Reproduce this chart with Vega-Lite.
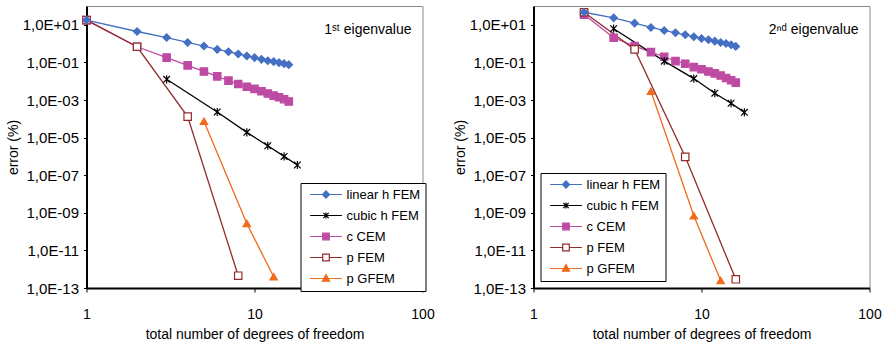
{
  "$schema": "https://vega.github.io/schema/vega-lite/v6.json",
  "padding": {"left": 5.5, "top": 5, "right": 5, "bottom": 5},
  "datasets": {
    "d1": [
      {"s": "c CEM", "x": 1, "y": 17.8}, {"s": "c CEM", "x": 2, "y": 0.68}, {"s": "c CEM", "x": 3, "y": 0.18}, {"s": "c CEM", "x": 4, "y": 0.069}, {"s": "c CEM", "x": 5, "y": 0.033}, {"s": "c CEM", "x": 6, "y": 0.018}, {"s": "c CEM", "x": 7, "y": 0.0107}, {"s": "c CEM", "x": 8, "y": 0.0071}, {"s": "c CEM", "x": 9, "y": 0.0051}, {"s": "c CEM", "x": 10, "y": 0.0039}, {"s": "c CEM", "x": 11, "y": 0.0029}, {"s": "c CEM", "x": 12, "y": 0.0022}, {"s": "c CEM", "x": 13, "y": 0.0017}, {"s": "c CEM", "x": 14, "y": 0.0014}, {"s": "c CEM", "x": 15, "y": 0.0011}, {"s": "c CEM", "x": 16, "y": 0.00083},
      {"s": "cubic h FEM", "x": 3, "y": 0.0126}, {"s": "cubic h FEM", "x": 6, "y": 0.00023}, {"s": "cubic h FEM", "x": 9, "y": 0.000019}, {"s": "cubic h FEM", "x": 12, "y": 0.0000037}, {"s": "cubic h FEM", "x": 15, "y": 0.000001}, {"s": "cubic h FEM", "x": 18, "y": 0.00000035},
      {"s": "p GFEM", "x": 5, "y": 0.000075}, {"s": "p GFEM", "x": 9, "y": 2.7e-10}, {"s": "p GFEM", "x": 13, "y": 4e-13},
      {"s": "p FEM", "x": 1, "y": 17.8}, {"s": "p FEM", "x": 2, "y": 0.68}, {"s": "p FEM", "x": 4, "y": 0.00013}, {"s": "p FEM", "x": 8, "y": 4.5e-13},
      {"s": "linear h FEM", "x": 1, "y": 17.8}, {"s": "linear h FEM", "x": 2, "y": 4.4}, {"s": "linear h FEM", "x": 3, "y": 2.1}, {"s": "linear h FEM", "x": 4, "y": 1.15}, {"s": "linear h FEM", "x": 5, "y": 0.74}, {"s": "linear h FEM", "x": 6, "y": 0.49}, {"s": "linear h FEM", "x": 7, "y": 0.37}, {"s": "linear h FEM", "x": 8, "y": 0.28}, {"s": "linear h FEM", "x": 9, "y": 0.22}, {"s": "linear h FEM", "x": 10, "y": 0.18}, {"s": "linear h FEM", "x": 11, "y": 0.145}, {"s": "linear h FEM", "x": 12, "y": 0.123}, {"s": "linear h FEM", "x": 13, "y": 0.11}, {"s": "linear h FEM", "x": 14, "y": 0.097}, {"s": "linear h FEM", "x": 15, "y": 0.086}, {"s": "linear h FEM", "x": 16, "y": 0.076}
    ],
    "d2": [
      {"s": "c CEM", "x": 2, "y": 35}, {"s": "c CEM", "x": 3, "y": 2.04}, {"s": "c CEM", "x": 4, "y": 0.73}, {"s": "c CEM", "x": 5, "y": 0.35}, {"s": "c CEM", "x": 6, "y": 0.2}, {"s": "c CEM", "x": 7, "y": 0.117}, {"s": "c CEM", "x": 8, "y": 0.085}, {"s": "c CEM", "x": 9, "y": 0.056}, {"s": "c CEM", "x": 10, "y": 0.043}, {"s": "c CEM", "x": 11, "y": 0.033}, {"s": "c CEM", "x": 12, "y": 0.026}, {"s": "c CEM", "x": 13, "y": 0.02}, {"s": "c CEM", "x": 14, "y": 0.0148}, {"s": "c CEM", "x": 15, "y": 0.0112}, {"s": "c CEM", "x": 16, "y": 0.0084},
      {"s": "cubic h FEM", "x": 3, "y": 6.2}, {"s": "cubic h FEM", "x": 6, "y": 0.117}, {"s": "cubic h FEM", "x": 9, "y": 0.0138}, {"s": "cubic h FEM", "x": 12, "y": 0.0023}, {"s": "cubic h FEM", "x": 15, "y": 0.00067}, {"s": "cubic h FEM", "x": 18, "y": 0.00022},
      {"s": "p GFEM", "x": 5, "y": 0.0029}, {"s": "p GFEM", "x": 9, "y": 7e-10}, {"s": "p GFEM", "x": 13, "y": 2.5e-13},
      {"s": "p FEM", "x": 2, "y": 46.5}, {"s": "p FEM", "x": 4, "y": 0.49}, {"s": "p FEM", "x": 8, "y": 9.5e-7}, {"s": "p FEM", "x": 16, "y": 2.9e-13},
      {"s": "linear h FEM", "x": 2, "y": 46.5}, {"s": "linear h FEM", "x": 3, "y": 23.5}, {"s": "linear h FEM", "x": 4, "y": 12.2}, {"s": "linear h FEM", "x": 5, "y": 7.2}, {"s": "linear h FEM", "x": 6, "y": 5.0}, {"s": "linear h FEM", "x": 7, "y": 3.77}, {"s": "linear h FEM", "x": 8, "y": 2.95}, {"s": "linear h FEM", "x": 9, "y": 2.31}, {"s": "linear h FEM", "x": 10, "y": 1.88}, {"s": "linear h FEM", "x": 11, "y": 1.6}, {"s": "linear h FEM", "x": 12, "y": 1.35}, {"s": "linear h FEM", "x": 13, "y": 1.15}, {"s": "linear h FEM", "x": 14, "y": 1.02}, {"s": "linear h FEM", "x": 15, "y": 0.87}, {"s": "linear h FEM", "x": 16, "y": 0.71}
    ],
    "a1": [{"x": 86, "y": 5.4, "t": "1ˢᵗ eigenvalue"}],
    "a2": [{"x": 86, "y": 5.4, "t": "2ⁿᵈ eigenvalue"}]
  },
  "hconcat": [
    {
      "width": 336, "height": 282,
      "data": {"name": "d1"},
      "encoding": {
        "x": {"field": "x", "type": "quantitative", "scale": {"type": "log", "domain": [1, 100]},
              "axis": {"values": [1, 10, 100], "format": "d", "tickSize": 4, "labelPadding": 15, "title": "total number of degrees of freedom", "titlePadding": 6, "labelFlush": false}},
        "y": {"field": "y", "type": "quantitative", "scale": {"type": "log", "domain": [1e-13, 100]},
              "axis": {"values": [10, 0.1, 0.001, 0.00001, 1e-7, 1e-9, 1e-11, 1e-13], "labelExpr": "'1,0E' + (datum.value >= 1 ? '+' : '-') + (abs(round(log(datum.value)/LN10)) < 10 ? '0' : '') + abs(round(log(datum.value)/LN10))", "tickSize": 3, "labelPadding": 5, "labelFontSize": 15, "title": "error (%)", "titlePadding": 2, "labelFlush": false}}
      },
      "layer": [
        {"mark": {"type": "line", "strokeWidth": 1.3},
         "encoding": {"color": {"field": "s", "type": "nominal", "scale": {"domain": ["linear h FEM", "cubic h FEM", "c CEM", "p FEM", "p GFEM"], "range": ["#4470C4", "#000000", "#BE4BA3", "#922B2B", "#F26A1B"]},
             "legend": {"orient": "bottom-right", "offset": -3, "title": null, "symbolSize": 36, "symbolOffset": 14, "labelOffset": 14, "rowPadding": 7, "padding": 5, "strokeColor": "black", "fillColor": "white", "labelFontSize": 13, "labelColor": "black",
               "encode": {"symbols": {"update": {
                 "shape": {"signal": "datum.value == 'linear h FEM' ? 'M-5.3,0H5.3M0,-1.2L1.2,0L0,1.2L-1.2,0Z' : datum.value == 'cubic h FEM' ? 'M-5.3,0H5.3M-0.9,-0.9L0.9,0.9M-0.9,0.9L0.9,-0.9M0,-1L0,1' : datum.value == 'c CEM' ? 'M-5.3,0H5.3M-1.1,-1.1H1.1V1.1H-1.1Z' : datum.value == 'p FEM' ? 'M-5.3,0H-1.1M1.1,0H5.3M-1.1,-1.1H1.1V1.1H-1.1Z' : 'M-5.3,0H5.3M0,-1.3L1.2,0.9H-1.2Z'"},
                 "fill": {"signal": "datum.value == 'linear h FEM' ? '#4470C4' : datum.value == 'c CEM' ? '#BE4BA3' : datum.value == 'p GFEM' ? '#F26A1B' : datum.value == 'p FEM' ? 'white' : 'transparent'"},
                 "strokeWidth": {"value": 1.2}, "size": {"value": 36}, "opacity": {"value": 1}}}}}}}},
        {"mark": {"type": "point", "filled": false, "size": 55, "strokeWidth": 1.2, "opacity": 1},
         "encoding": {
           "color": {"field": "s", "type": "nominal"},
           "shape": {"condition": [{"test": "datum.s == 'linear h FEM'", "value": "diamond"}, {"test": "datum.s == 'cubic h FEM'", "value": "M-0.9,-0.9L0.9,0.9M-0.9,0.9L0.9,-0.9M0,-1.1L0,1.1"}, {"test": "datum.s == 'c CEM' || datum.s == 'p FEM'", "value": "square"}], "value": "triangle-up"},
           "fill": {"condition": [{"test": "datum.s == 'linear h FEM'", "value": "#4470C4"}, {"test": "datum.s == 'c CEM'", "value": "#BE4BA3"}, {"test": "datum.s == 'p FEM'", "value": "white"}, {"test": "datum.s == 'p GFEM'", "value": "#F26A1B"}], "value": "transparent"}
         }},
        {"data": {"name": "a1"}, "mark": {"type": "text", "align": "right", "baseline": "middle", "fontSize": 14, "font": "Liberation Sans", "color": "black"},
         "encoding": {"text": {"field": "t"}}}
      ]
    },
    {
      "width": 336, "height": 282,
      "data": {"name": "d2"},
      "encoding": {
        "x": {"field": "x", "type": "quantitative", "scale": {"type": "log", "domain": [1, 100]},
              "axis": {"values": [1, 10, 100], "format": "d", "tickSize": 4, "labelPadding": 15, "title": "total number of degrees of freedom", "titlePadding": 6, "labelFlush": false}},
        "y": {"field": "y", "type": "quantitative", "scale": {"type": "log", "domain": [1e-13, 100]},
              "axis": {"values": [10, 0.1, 0.001, 0.00001, 1e-7, 1e-9, 1e-11, 1e-13], "labelExpr": "'1,0E' + (datum.value >= 1 ? '+' : '-') + (abs(round(log(datum.value)/LN10)) < 10 ? '0' : '') + abs(round(log(datum.value)/LN10))", "tickSize": 3, "labelPadding": 5, "labelFontSize": 15, "title": "error (%)", "titlePadding": 2, "labelFlush": false}}
      },
      "layer": [
        {"mark": {"type": "line", "strokeWidth": 1.3},
         "encoding": {"color": {"field": "s", "type": "nominal", "scale": {"domain": ["linear h FEM", "cubic h FEM", "c CEM", "p FEM", "p GFEM"], "range": ["#4470C4", "#000000", "#BE4BA3", "#922B2B", "#F26A1B"]},
             "legend": {"orient": "bottom-left", "offset": 7, "title": null, "symbolSize": 36, "symbolOffset": 14, "labelOffset": 14, "rowPadding": 7, "padding": 5, "strokeColor": "black", "fillColor": "white", "labelFontSize": 13, "labelColor": "black",
               "encode": {"symbols": {"update": {
                 "shape": {"signal": "datum.value == 'linear h FEM' ? 'M-5.3,0H5.3M0,-1.2L1.2,0L0,1.2L-1.2,0Z' : datum.value == 'cubic h FEM' ? 'M-5.3,0H5.3M-0.9,-0.9L0.9,0.9M-0.9,0.9L0.9,-0.9M0,-1L0,1' : datum.value == 'c CEM' ? 'M-5.3,0H5.3M-1.1,-1.1H1.1V1.1H-1.1Z' : datum.value == 'p FEM' ? 'M-5.3,0H-1.1M1.1,0H5.3M-1.1,-1.1H1.1V1.1H-1.1Z' : 'M-5.3,0H5.3M0,-1.3L1.2,0.9H-1.2Z'"},
                 "fill": {"signal": "datum.value == 'linear h FEM' ? '#4470C4' : datum.value == 'c CEM' ? '#BE4BA3' : datum.value == 'p GFEM' ? '#F26A1B' : datum.value == 'p FEM' ? 'white' : 'transparent'"},
                 "strokeWidth": {"value": 1.2}, "size": {"value": 36}, "opacity": {"value": 1}}}}}}}},
        {"mark": {"type": "point", "filled": false, "size": 55, "strokeWidth": 1.2, "opacity": 1},
         "encoding": {
           "color": {"field": "s", "type": "nominal"},
           "shape": {"condition": [{"test": "datum.s == 'linear h FEM'", "value": "diamond"}, {"test": "datum.s == 'cubic h FEM'", "value": "M-0.9,-0.9L0.9,0.9M-0.9,0.9L0.9,-0.9M0,-1.1L0,1.1"}, {"test": "datum.s == 'c CEM' || datum.s == 'p FEM'", "value": "square"}], "value": "triangle-up"},
           "fill": {"condition": [{"test": "datum.s == 'linear h FEM'", "value": "#4470C4"}, {"test": "datum.s == 'c CEM'", "value": "#BE4BA3"}, {"test": "datum.s == 'p FEM'", "value": "white"}, {"test": "datum.s == 'p GFEM'", "value": "#F26A1B"}], "value": "transparent"}
         }},
        {"data": {"name": "a2"}, "mark": {"type": "text", "align": "right", "baseline": "middle", "fontSize": 14, "font": "Liberation Sans", "color": "black"},
         "encoding": {"text": {"field": "t"}}}
      ]
    }
  ],
  "spacing": 111,
  "bounds": "flush",
  "resolve": {"scale": {"x": "independent", "y": "independent", "color": "independent"}, "legend": {"color": "independent"}},
  "config": {
    "font": "Liberation Sans",
    "view": {"stroke": "#8a8a8a", "strokeWidth": 1},
    "axis": {"grid": false, "domainColor": "black", "domainWidth": 2, "tickColor": "black", "tickWidth": 1, "labelColor": "black", "titleColor": "black", "labelFont": "Liberation Sans", "titleFont": "Liberation Sans", "labelFontSize": 14, "titleFontSize": 14, "titleFontWeight": "normal"},
    "legend": {"labelFont": "Liberation Sans", "strokeColor": "black", "fillColor": "white", "strokeWidth": 1}
  }
}
